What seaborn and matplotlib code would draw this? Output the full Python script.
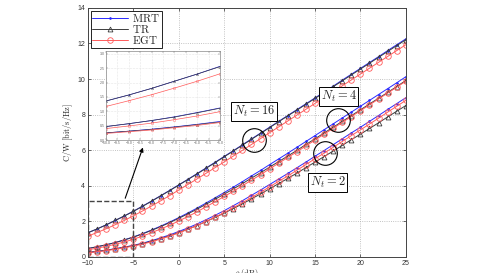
import numpy as np
import pandas as pd
import seaborn as sns
import matplotlib.pyplot as plt
from matplotlib.patches import Rectangle

# SNR grid (dB), one marker per dB
snr_db = list(range(-10, 26))

# Nt = 16
mrt_nt16 = [1.36, 1.57, 1.80, 2.05, 2.30, 2.57, 2.85, 3.14, 3.44, 3.74, 4.05, 4.36,
            4.68, 5.00, 5.32, 5.65, 5.97, 6.30, 6.63, 6.96, 7.29, 7.62, 7.95, 8.28,
            8.61, 8.94, 9.27, 9.60, 9.94, 10.27, 10.60, 10.93, 11.26, 11.60, 11.93, 12.26]
tr_nt16 = [1.36, 1.57, 1.80, 2.05, 2.30, 2.56, 2.84, 3.13, 3.43, 3.73, 4.04, 4.35,
           4.66, 4.98, 5.30, 5.63, 5.95, 6.28, 6.61, 6.94, 7.27, 7.60, 7.93, 8.25,
           8.58, 8.91, 9.24, 9.57, 9.90, 10.23, 10.56, 10.89, 11.22, 11.55, 11.88, 12.21]
egt_nt16 = [1.17, 1.37, 1.58, 1.81, 2.05, 2.31, 2.58, 2.86, 3.15, 3.45, 3.76, 4.07,
            4.38, 4.70, 5.02, 5.34, 5.67, 5.99, 6.32, 6.65, 6.98, 7.31, 7.64, 7.97,
            8.30, 8.63, 8.96, 9.29, 9.62, 9.95, 10.28, 10.61, 10.94, 11.27, 11.60, 11.93]

# Nt = 4
mrt_nt4 = [0.47, 0.57, 0.68, 0.81, 0.96, 1.12, 1.31, 1.51, 1.73, 1.96, 2.21, 2.47,
           2.74, 3.03, 3.32, 3.62, 3.92, 4.23, 4.55, 4.86, 5.19, 5.51, 5.83, 6.16,
           6.49, 6.82, 7.15, 7.48, 7.81, 8.14, 8.47, 8.80, 9.13, 9.46, 9.79, 10.13]
tr_nt4 = [0.47, 0.57, 0.68, 0.80, 0.95, 1.11, 1.29, 1.49, 1.70, 1.93, 2.17, 2.42,
          2.68, 2.96, 3.24, 3.53, 3.82, 4.12, 4.43, 4.73, 5.05, 5.36, 5.67, 5.99,
          6.32, 6.64, 6.97, 7.29, 7.62, 7.94, 8.27, 8.60, 8.92, 9.25, 9.58, 9.92]
egt_nt4 = [0.40, 0.49, 0.59, 0.71, 0.84, 0.99, 1.17, 1.36, 1.57, 1.78, 2.02, 2.27,
           2.53, 2.82, 3.10, 3.40, 3.69, 4.00, 4.31, 4.62, 4.95, 5.27, 5.59, 5.91,
           6.24, 6.57, 6.90, 7.23, 7.56, 7.89, 8.22, 8.55, 8.88, 9.21, 9.54, 9.88]

# Nt = 2
mrt_nt2 = [0.25, 0.31, 0.38, 0.46, 0.55, 0.65, 0.77, 0.91, 1.07, 1.24, 1.43, 1.63,
           1.85, 2.09, 2.34, 2.60, 2.88, 3.16, 3.46, 3.76, 4.07, 4.38, 4.69, 5.01,
           5.33, 5.66, 5.98, 6.31, 6.64, 6.97, 7.29, 7.62, 7.95, 8.29, 8.62, 8.95]
tr_nt2 = [0.25, 0.31, 0.37, 0.45, 0.54, 0.63, 0.75, 0.88, 1.03, 1.19, 1.37, 1.56,
          1.76, 1.99, 2.22, 2.46, 2.72, 2.98, 3.26, 3.54, 3.83, 4.12, 4.41, 4.71,
          5.02, 5.33, 5.64, 5.95, 6.27, 6.59, 6.90, 7.22, 7.54, 7.87, 8.19, 8.51]
egt_nt2 = [0.23, 0.29, 0.35, 0.43, 0.51, 0.61, 0.72, 0.85, 1.01, 1.17, 1.35, 1.55,
           1.76, 1.99, 2.24, 2.49, 2.77, 3.04, 3.34, 3.63, 3.94, 4.25, 4.55, 4.87,
           5.19, 5.52, 5.83, 6.16, 6.49, 6.82, 7.14, 7.47, 7.80, 8.14, 8.47, 8.80]

schemes = ["MRT", "TR", "EGT"]
curves = {
    2: {"MRT": mrt_nt2, "TR": tr_nt2, "EGT": egt_nt2},
    4: {"MRT": mrt_nt4, "TR": tr_nt4, "EGT": egt_nt4},
    16: {"MRT": mrt_nt16, "TR": tr_nt16, "EGT": egt_nt16},
}

rows = []
for nt, d in curves.items():
    for sch in schemes:
        for s, v in zip(snr_db, d[sch]):
            rows.append({"snr": s, "rate": v, "scheme": sch, "nt": nt})
df = pd.DataFrame(rows)

STYLE = {
    "MRT": dict(color="#2a2aff", marker=".", mec="#2a2aff", mfc="#2a2aff"),
    "TR": dict(color="#3c3c3c", marker="^", mec="#3c3c3c", mfc="none"),
    "EGT": dict(color="#ff5a5a", marker="o", mec="#ff5a5a", mfc="none"),
}
MS = {"MRT": 2.5, "TR": 3.5, "EGT": 4.0}

sns.set_style("ticks")
plt.rcParams["mathtext.fontset"] = "cm"
plt.rcParams["font.family"] = ["Liberation Sans", "DejaVu Sans"]


def draw_curves(ax, lw, ms_scale, with_labels):
    for nt in curves:
        for sch in schemes:
            sub = df[(df.nt == nt) & (df.scheme == sch)]
            st = STYLE[sch]
            sns.lineplot(data=sub, x="snr", y="rate", ax=ax, color=st["color"],
                         marker=st["marker"], markersize=MS[sch] * ms_scale,
                         markerfacecolor=st["mfc"], markeredgecolor=st["mec"],
                         markeredgewidth=0.6 * ms_scale, linewidth=lw,
                         label=(r"$\mathrm{%s}$" % sch) if (with_labels and nt == 2) else None,
                         legend=False)


fig = plt.figure(figsize=(4.86, 2.73), dpi=100)
ax = fig.add_axes([0.181, 0.059, 0.654, 0.912])
draw_curves(ax, 0.7, 1.0, True)

ax.set_xlim(-10, 25)
ax.set_ylim(0, 14)
ax.set_xticks(range(-10, 26, 5))
ax.set_yticks(range(0, 15, 2))
ax.grid(True, linestyle=":", color="#b0b0b0", linewidth=0.6)
ax.tick_params(direction="in", labelsize=5, length=2, width=0.5, pad=2,
               top=True, right=True, colors="#333333")
for sp in ax.spines.values():
    sp.set_linewidth(0.7)
    sp.set_color("#444444")
ax.set_xlabel(r"$\rho\ \mathrm{(dB)}$", fontsize=6, labelpad=0)
ax.set_ylabel(r"$\mathrm{C/W\ [bit/s/Hz]}$", fontsize=6, labelpad=2)

leg = ax.legend(loc="upper left", fontsize=8, labelspacing=-0.1, handlelength=3.2,
                handletextpad=0.4, borderpad=0.15, borderaxespad=0.25,
                fancybox=False, edgecolor="black", framealpha=1)
leg.get_frame().set_linewidth(0.6)

# annotation boxes and circles
box = dict(boxstyle="square,pad=0.15", fc="white", ec="black", lw=0.7)
ax.text(8.3, 8.2, r"$N_t = 16$", ha="center", va="center", fontsize=9, bbox=box)
ax.text(17.6, 9.0, r"$N_t = 4$", ha="center", va="center", fontsize=9, bbox=box)
ax.text(16.4, 4.2, r"$N_t = 2$", ha="center", va="center", fontsize=9, bbox=box)
for cx, cy in [(8.3, 6.6), (17.5, 7.7), (16.1, 5.85)]:
    ax.plot([cx], [cy], marker="o", ms=17, mfc="none", mec="black", mew=0.8)

# zoom rectangle and arrow
ax.add_patch(Rectangle((-10, 0), 5, 3.15, fill=False, ls="--", lw=1.0, ec="#444444", zorder=5))
ax.annotate("", xy=(-3.85, 6.3), xytext=(-6.0, 3.15),
            arrowprops=dict(arrowstyle="-|>", color="black", lw=0.8, mutation_scale=6))

# inset
axin = fig.add_axes([0.218, 0.487, 0.235, 0.326])
draw_curves(axin, 0.5, 0.45, False)
axin.set_xlim(-10, -5)
axin.set_ylim(0, 3.1)
axin.set_xticks(np.arange(-10, -4.9, 0.5))
axin.set_yticks(np.arange(0, 3.1, 0.5))
axin.grid(True, linestyle=":", color="#d0d0d0", linewidth=0.4)
axin.tick_params(direction="in", labelsize=2.5, length=1.2, width=0.3, pad=1,
                 top=True, right=True, colors="#666666")
axin.set_xlabel("")
axin.set_ylabel("")
for sp in axin.spines.values():
    sp.set_linewidth(0.5)
    sp.set_color("#888888")

fig.savefig("out.png", dpi=100)
